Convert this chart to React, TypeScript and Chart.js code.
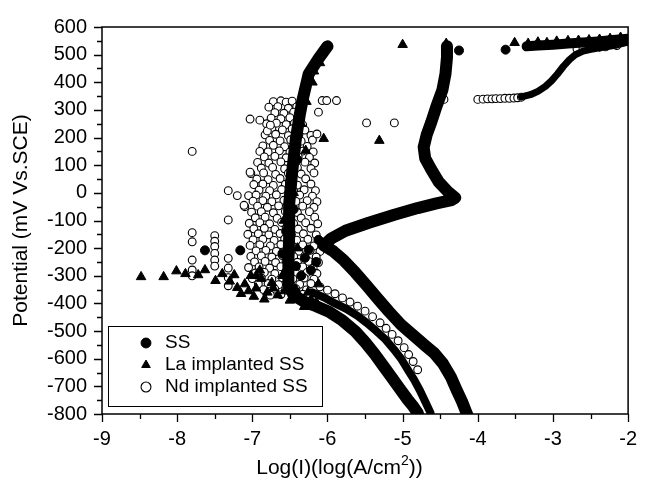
import { useEffect, useRef } from 'react';
import { Chart, registerables } from 'chart.js';

Chart.register(...registerables);

type P = [number, number];

// ---- axes ----
const xMin = -9;
const xMax = -2;
const yMin = -800;
const yMax = 600;
const xTitleMain = 'Log(I)(log(A/cm';
const xTitleSup = '2';
const xTitleEnd = '))';
const yTitle = 'Potential (mV Vs.SCE)';
const seriesNames = ['SS', 'La implanted SS', 'Nd implanted SS'];

// ---- SS (filled circles) ----
const ssMarkers: P[] = [
  [-7.63, -208], [-7.16, -208], [-6.42, -265], [-6.3, -235], [-6.22, -280], [-6.15, -250],
  [-6.35, -300], [-6.25, -205], [-6.12, -170], [-6.55, -140], [-6.45, -60], [-6.5, 40],
  [-6.4, 120], [-6.6, -220], [-4.25, 515], [-3.63, 518],
];
const ssCurve: P[] = [
  [-4.12, -815], [-4.15, -796], [-4.21, -755], [-4.28, -714], [-4.36, -665], [-4.46, -619],
  [-4.58, -580], [-4.72, -548], [-4.87, -512], [-5.02, -477], [-5.18, -430], [-5.33, -383],
  [-5.48, -335], [-5.63, -288], [-5.78, -245], [-5.92, -212], [-6.05, -190],
  [-5.95, -165], [-5.76, -137], [-5.45, -108], [-5.11, -79], [-4.8, -55], [-4.55, -38],
  [-4.35, -26], [-4.3, -18], [-4.4, 5], [-4.52, 40], [-4.62, 85], [-4.7, 125], [-4.72, 165],
  [-4.68, 210], [-4.62, 255], [-4.55, 313], [-4.47, 373], [-4.43, 430], [-4.41, 490], [-4.41, 530],
];

// ---- La implanted SS (filled triangles) ----
const laMarkers: P[] = [
  [-8.48, -304], [-8.18, -304], [-8.01, -283], [-7.89, -293], [-7.72, -297], [-7.63, -279],
  [-7.49, -318], [-7.4, -293], [-7.24, -297], [-7.2, -343], [-7.1, -330], [-7.02, -300],
  [-6.95, -345], [-6.88, -310], [-6.8, -360], [-6.74, -325], [-6.66, -370], [-6.6, -300],
  [-6.5, -389], [-6.42, -350], [-6.31, -412], [-6.22, -385], [-6.9, -280],
  [-7.15, -365], [-7.05, -355], [-6.98, -375], [-6.84, -385], [-6.72, -345], [-6.57, -355],
  [-6.38, -385], [-6.26, -360], [-6.15, -395], [-6.12, -330], [-7.3, -320], [-6.95, -300],
  [-6.05, 196], [-6.29, 153], [-6.2, 400], [-6.35, 250], [-6.58, -100], [-6.45, 0],
  [-6.18, 440], [-6.28, 330], [-6.1, 470], [-6.4, -200],
  [-5.31, 189], [-5.0, 536], [-4.42, 540], [-3.51, 543],
  [-3.33, 540], [-3.2, 545], [-3.08, 543], [-2.95, 548], [-2.8, 550], [-2.66, 551],
  [-2.52, 553], [-2.38, 555], [-2.24, 558], [-2.1, 562],
];
const laCurve: P[] = [
  [-4.78, -815], [-4.8, -796], [-4.86, -772], [-4.93, -749], [-5.04, -708], [-5.15, -666],
  [-5.26, -625], [-5.37, -584], [-5.5, -540], [-5.63, -501], [-5.8, -462], [-5.98, -430],
  [-6.15, -410], [-6.3, -395], [-6.45, -370], [-6.52, -330], [-6.52, -250], [-6.51, -159],
  [-6.51, -42], [-6.47, 75], [-6.42, 196], [-6.37, 280], [-6.33, 338], [-6.25, 430],
  [-6.12, 485], [-6.0, 530],
];
const laTopBand: P[] = [
  [-3.35, 530], [-3.2, 533], [-3.0, 536], [-2.8, 540], [-2.6, 544], [-2.4, 548], [-2.2, 553], [-2.0, 558],
];

// ---- Nd implanted SS (open circles) ----
const ndCloud: P[] = [
  [-6.72, 330], [-6.62, 333], [-6.55, 328], [-6.47, 332],
  [-6.78, 310], [-6.66, 312], [-6.52, 306], [-6.41, 311],
  [-6.7, 290], [-6.58, 288], [-6.45, 292], [-6.36, 287],
  [-6.75, 270], [-6.62, 268], [-6.5, 272], [-6.39, 266],
  [-6.81, 250], [-6.68, 252], [-6.55, 247], [-6.44, 251], [-6.33, 246],
  [-6.74, 230], [-6.6, 228], [-6.47, 232], [-6.3, 227],
  [-6.83, 210], [-6.69, 212], [-6.52, 207], [-6.38, 211], [-6.22, 208],
  [-6.77, 190], [-6.63, 188], [-6.49, 192], [-6.35, 187], [-6.2, 191],
  [-6.86, 170], [-6.72, 172], [-6.57, 167], [-6.41, 171], [-6.27, 168],
  [-6.9, 150], [-6.79, 148], [-6.64, 152], [-6.5, 147], [-6.33, 151], [-6.19, 148],
  [-6.84, 130], [-6.7, 132], [-6.55, 127], [-6.39, 131], [-6.24, 128],
  [-6.93, 110], [-6.78, 108], [-6.62, 112], [-6.46, 107], [-6.3, 111], [-6.17, 108],
  [-6.88, 90], [-6.73, 92], [-6.57, 87], [-6.4, 91], [-6.22, 88],
  [-7.02, 70], [-6.85, 72], [-6.69, 67], [-6.52, 71], [-6.35, 68], [-6.18, 72],
  [-6.94, 50], [-6.79, 48], [-6.63, 52], [-6.47, 47], [-6.29, 51],
  [-6.98, 30], [-6.86, 32], [-6.72, 27], [-6.56, 31], [-6.4, 28], [-6.22, 32],
  [-6.91, 10], [-6.77, 8], [-6.61, 12], [-6.45, 7], [-6.31, 11], [-6.16, 8],
  [-7.05, -10], [-6.95, -8], [-6.82, -12], [-6.68, -7], [-6.52, -11], [-6.37, -8], [-6.2, -12],
  [-6.99, -30], [-6.86, -28], [-6.74, -32], [-6.58, -27], [-6.42, -31], [-6.27, -28], [-6.14, -32],
  [-7.1, -50], [-6.93, -48], [-6.8, -52], [-6.65, -47], [-6.49, -51], [-6.33, -48], [-6.18, -52],
  [-7.01, -70], [-6.88, -68], [-6.72, -72], [-6.56, -67], [-6.4, -71], [-6.24, -68],
  [-6.96, -90], [-6.83, -88], [-6.67, -92], [-6.51, -87], [-6.35, -91], [-6.17, -88],
  [-7.04, -110], [-6.9, -108], [-6.77, -112], [-6.61, -107], [-6.45, -111], [-6.29, -108], [-6.13, -112],
  [-6.98, -130], [-6.84, -128], [-6.7, -132], [-6.55, -127], [-6.39, -131], [-6.22, -128],
  [-7.06, -150], [-6.92, -148], [-6.78, -152], [-6.63, -147], [-6.48, -151], [-6.32, -148], [-6.15, -152],
  [-6.99, -170], [-6.86, -168], [-6.71, -172], [-6.57, -167], [-6.41, -171], [-6.26, -168], [-6.11, -172],
  [-7.03, -190], [-6.9, -188], [-6.76, -192], [-6.62, -187], [-6.47, -191], [-6.33, -188], [-6.18, -192],
  [-6.95, -210], [-6.82, -208], [-6.68, -212], [-6.53, -207], [-6.38, -211], [-6.23, -208], [-6.1, -212],
  [-7.02, -230], [-6.88, -228], [-6.74, -232], [-6.6, -227], [-6.45, -231], [-6.3, -228], [-6.15, -232],
  [-6.97, -250], [-6.83, -248], [-6.69, -252], [-6.55, -247], [-6.4, -251], [-6.25, -248], [-6.12, -252],
  [-7.05, -270], [-6.91, -268], [-6.77, -272], [-6.62, -267], [-6.48, -271], [-6.33, -268], [-6.19, -272],
  [-6.96, -290], [-6.84, -288], [-6.7, -292], [-6.56, -287], [-6.42, -291], [-6.27, -288], [-6.14, -292],
  [-7.0, -310], [-6.88, -308], [-6.74, -312], [-6.6, -307], [-6.46, -311], [-6.31, -308], [-6.18, -312],
  [-6.92, -330], [-6.79, -328], [-6.65, -332], [-6.51, -327], [-6.37, -331], [-6.22, -328],
  [-6.85, -350], [-6.7, -348], [-6.56, -352], [-6.42, -347], [-6.28, -351],
  [-6.76, -370], [-6.62, -368], [-6.47, -372], [-6.33, -367],
];
const ndOutliers: P[] = [
  [-7.8, 150], [-7.8, -144], [-7.8, -177], [-7.8, -243], [-7.8, -279], [-7.8, -300],
  [-7.5, -155], [-7.5, -175], [-7.5, -194], [-7.5, -219], [-7.5, -243], [-7.5, -265],
  [-7.32, 8], [-7.32, -98], [-7.32, -237], [-7.32, -272], [-7.32, -307], [-7.32, -336],
  [-7.2, -10], [-7.11, -45], [-7.03, 75], [-7.03, 267], [-6.9, 263], [-6.8, 224], [-6.76, 245],
  [-6.07, 334], [-6.01, 334], [-5.88, 334], [-6.12, 292], [-6.14, 213], [-5.48, 253], [-5.11, 253],
];
const ndTrail: P[] = [
  [-6.1, -340], [-6.0, -352], [-5.9, -365], [-5.8, -380], [-5.7, -395], [-5.6, -410],
  [-5.5, -428], [-5.4, -448], [-5.3, -470], [-5.22, -490], [-5.14, -512], [-5.06, -535],
  [-4.98, -560], [-4.92, -585], [-4.86, -610], [-4.8, -640],
  [-4.45, 338], [-4.0, 338], [-3.93, 339], [-3.87, 340], [-3.81, 340], [-3.76, 341],
  [-3.7, 341], [-3.64, 342], [-3.58, 342], [-3.52, 343], [-3.47, 344], [-3.42, 346],
  [-2.68, 520], [-2.6, 522], [-2.52, 524], [-2.45, 525], [-2.38, 527], [-2.3, 528], [-2.15, 533],
];
const ndCathodic: P[] = [
  [-4.62, -815], [-4.63, -795], [-4.7, -755], [-4.77, -715], [-4.85, -675], [-4.93, -640],
  [-5.02, -600], [-5.12, -565], [-5.23, -530], [-5.35, -500], [-5.48, -470], [-5.6, -445],
  [-5.75, -420], [-5.9, -400], [-6.05, -378], [-6.2, -360],
];
const ndAnodicBand: P[] = [
  [-3.42, 347], [-3.3, 355], [-3.2, 367], [-3.1, 385], [-3.02, 405], [-2.94, 430], [-2.86, 458],
  [-2.78, 482], [-2.7, 500], [-2.6, 513], [-2.45, 522], [-2.3, 528], [-2.15, 535], [-2.0, 545],
];

const FONT = '"Liberation Sans", Arial, Helvetica, sans-serif';
const toPts = (a: P[]) => a.map(([x, y]) => ({ x, y }));

const framePlugin = {
  id: 'frameTicks',
  afterDatasetsDraw(chart: any) {
    const { ctx, chartArea, scales } = chart;
    const { left, right, top, bottom } = chartArea;
    const xs = scales.x;
    const ys = scales.y;
    ctx.save();
    ctx.strokeStyle = '#000';
    ctx.lineWidth = 1.5;
    ctx.strokeRect(left, top, right - left, bottom - top);
    ctx.lineWidth = 1.3;
    ctx.beginPath();
    for (let v = yMin; v <= yMax; v += 50) {
      const p = Math.round(ys.getPixelForValue(v)) + 0.5;
      const len = v % 100 === 0 ? 8 : 5;
      ctx.moveTo(left, p);
      ctx.lineTo(left - len, p);
    }
    for (let v = xMin; v <= xMax + 1e-9; v += 0.5) {
      const p = Math.round(xs.getPixelForValue(v)) + 0.5;
      const len = Math.abs(v - Math.round(v)) < 1e-6 ? 8 : 5;
      ctx.moveTo(p, bottom);
      ctx.lineTo(p, bottom + len);
    }
    ctx.stroke();
    ctx.restore();
  },
};

const legendPlacePlugin = {
  id: 'legendPlace',
  afterLayout(chart: any) {
    const lg = chart.legend;
    if (!lg) return;
    const { left, bottom } = chart.chartArea;
    lg.left = left + 31.5;
    lg.right = lg.left + lg.width;
    lg.top = bottom - 83.5;
    lg.bottom = lg.top + 140;
  },
  afterDraw(chart: any) {
    const { ctx, chartArea, scales } = chart;
    const lg = chart.legend;
    if (lg && lg.legendHitBoxes && lg.legendHitBoxes.length) {
      const hb = lg.legendHitBoxes;
      const bx = chartArea.left + 6;
      const by = hb[0].top - 7.5;
      const br = Math.max(...hb.map((h: any) => h.left + h.width)) + 14;
      const last = hb[hb.length - 1];
      const bb = last.top + last.height + 9.5;
      ctx.save();
      ctx.strokeStyle = '#000';
      ctx.lineWidth = 1;
      ctx.strokeRect(Math.round(bx) + 0.5, Math.round(by) + 0.5, Math.round(br - bx), Math.round(bb - by));
      ctx.restore();
    }
    // x-axis title with superscript
    const cx = scales.x.getPixelForValue(-5.84);
    const baseY = chartArea.bottom + 60;
    ctx.save();
    ctx.fillStyle = '#000';
    ctx.textBaseline = 'alphabetic';
    ctx.textAlign = 'left';
    const mainFont = `21px ${FONT}`;
    const supFont = `14px ${FONT}`;
    ctx.font = mainFont;
    const w1 = ctx.measureText(xTitleMain).width;
    const w3 = ctx.measureText(xTitleEnd).width;
    ctx.font = supFont;
    const w2 = ctx.measureText(xTitleSup).width;
    let x0 = cx - (w1 + w2 + w3) / 2;
    ctx.font = mainFont;
    ctx.fillText(xTitleMain, x0, baseY);
    x0 += w1;
    ctx.font = supFont;
    ctx.fillText(xTitleSup, x0, baseY - 9);
    x0 += w2;
    ctx.font = mainFont;
    ctx.fillText(xTitleEnd, x0, baseY);
    ctx.restore();
  },
};

export default function App() {
  const ref = useRef<HTMLCanvasElement | null>(null);

  useEffect(() => {
    if (!ref.current) return;
    Chart.defaults.font.family = FONT;
    Chart.defaults.color = '#000';
    const curve = (label: string, pts: P[], width: number) => ({
      label,
      data: toPts(pts),
      showLine: true,
      pointRadius: 0,
      pointHoverRadius: 0,
      borderColor: '#000',
      backgroundColor: '#000',
      borderWidth: width,
      borderJoinStyle: 'round' as const,
      borderCapStyle: 'round' as const,
      tension: 0,
      order: 0,
    });
    const chart = new Chart(ref.current, {
      type: 'scatter',
      data: {
        datasets: [
          {
            label: seriesNames[0],
            data: toPts(ssMarkers),
            pointStyle: 'circle',
            pointRadius: 4.5,
            backgroundColor: '#000',
            borderColor: '#000',
            borderWidth: 1,
            order: 1,
          },
          {
            label: seriesNames[1],
            data: toPts(laMarkers),
            pointStyle: 'triangle',
            pointRadius: 5.5,
            backgroundColor: '#000',
            borderColor: '#000',
            borderWidth: 1,
            order: 2,
          },
          {
            label: seriesNames[2],
            data: toPts([...ndCloud, ...ndOutliers, ...ndTrail]),
            pointStyle: 'circle',
            pointRadius: 3.9,
            backgroundColor: '#fff',
            borderColor: '#000',
            borderWidth: 1.1,
            order: 3,
          },
          curve('SS curve', ssCurve, 12),
          curve('La curve', laCurve, 12),
          curve('La band', laTopBand, 10),
          curve('Nd cathodic', ndCathodic, 8),
          curve('Nd anodic', ndAnodicBand, 7),
        ],
      },
      options: {
        animation: false,
        responsive: false,
        devicePixelRatio: 1,
        layout: { padding: { left: 0, right: 11, top: 19, bottom: 0 } },
        scales: {
          x: {
            type: 'linear',
            min: xMin,
            max: xMax,
            grid: { display: false, drawTicks: false },
            border: { display: false },
            ticks: { stepSize: 1, padding: 13, font: { size: 20 }, color: '#000' },
            afterFit: (s: any) => {
              s.height = 69;
            },
          },
          y: {
            type: 'linear',
            min: yMin,
            max: yMax,
            grid: { display: false, drawTicks: false },
            border: { display: false },
            ticks: { stepSize: 100, padding: 15, font: { size: 20 }, color: '#000' },
            title: {
              display: true,
              text: yTitle,
              font: { size: 21 },
              color: '#000',
              padding: { top: 9, bottom: 0 },
            },
            afterFit: (s: any) => {
              s.width = 102;
            },
          },
        },
        plugins: {
          tooltip: { enabled: false },
          legend: {
            display: true,
            position: 'chartArea',
            align: 'start',
            labels: {
              usePointStyle: true,
              boxHeight: 7,
              boxWidth: 19,
              padding: 3,
              color: '#000',
              font: { size: 19 },
              filter: (item: any) => item.datasetIndex <= 2,
            },
          },
        },
      } as any,
      plugins: [framePlugin, legendPlacePlugin],
    });
    return () => chart.destroy();
  }, []);

  return (
    <div style={{ position: 'absolute', left: 0, top: 0, width: 650, height: 483, background: '#fff' }}>
      <canvas ref={ref} width={650} height={483} style={{ display: 'block' }} />
    </div>
  );
}
